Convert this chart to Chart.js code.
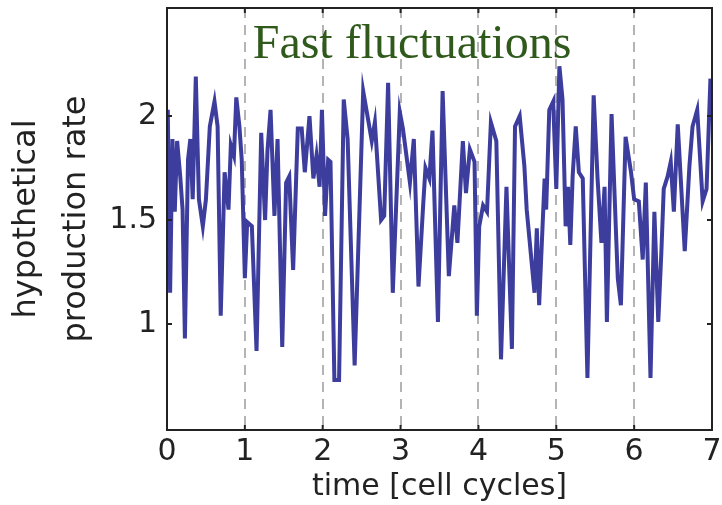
<!DOCTYPE html>
<html>
<head>
<meta charset="utf-8">
<script src="https://cdn.jsdelivr.net/npm/chart.js@4/dist/chart.umd.min.js"></script>
<style>
  html, body { margin: 0; padding: 0; background: #fff; }
  #wrap { width: 722px; height: 505px; }
</style>
</head>
<body>
<div id="wrap"><canvas id="graf"></canvas></div>
<script>
// time in cell cycles, production rate
const times = [0.01, 0.04, 0.07, 0.10, 0.13, 0.17, 0.20, 0.23, 0.27, 0.30, 0.33, 0.37, 0.41, 0.46, 0.50,
  0.55, 0.61, 0.65, 0.69, 0.74, 0.79, 0.82, 0.86, 0.89, 0.93, 0.96, 1.00, 1.03, 1.09, 1.15, 1.21, 1.26,
  1.29, 1.33, 1.38, 1.42, 1.48, 1.53, 1.57, 1.62, 1.68, 1.73, 1.77, 1.83, 1.88, 1.92, 1.96, 1.99, 2.03,
  2.07, 2.10, 2.15, 2.21, 2.27, 2.32, 2.41, 2.52, 2.58, 2.63, 2.67, 2.75, 2.79, 2.84, 2.90, 2.99, 3.03,
  3.12, 3.17, 3.23, 3.29, 3.32, 3.37, 3.41, 3.48, 3.54, 3.62, 3.69, 3.73, 3.80, 3.84, 3.89, 3.95, 3.98,
  4.01, 4.06, 4.11, 4.16, 4.23, 4.29, 4.36, 4.43, 4.47, 4.53, 4.59, 4.62, 4.68, 4.72, 4.75, 4.78, 4.85,
  4.87, 4.91, 4.96, 5.00, 5.04, 5.08, 5.12, 5.15, 5.18, 5.21, 5.25, 5.29, 5.34, 5.40, 5.48, 5.53, 5.58,
  5.62, 5.65, 5.71, 5.77, 5.79, 5.83, 5.89, 5.96, 6.00, 6.06, 6.11, 6.15, 6.21, 6.26, 6.31, 6.35, 6.38,
  6.43, 6.47, 6.51, 6.56, 6.65, 6.71, 6.75, 6.81, 6.88, 6.93, 6.98];
const rates = [2.03, 1.15, 1.89, 1.54, 1.88, 1.71, 1.55, 0.93, 1.79, 1.89, 1.60, 2.19, 1.60, 1.47, 1.60,
  1.95, 2.07, 1.95, 1.04, 1.73, 1.55, 1.86, 1.81, 2.09, 1.95, 1.79, 1.22, 1.49, 1.47, 0.87, 1.92, 1.50,
  1.83, 2.03, 1.52, 1.89, 0.89, 1.68, 1.71, 1.26, 1.94, 1.94, 1.73, 2.00, 1.70, 1.81, 1.66, 2.03, 1.52,
  1.79, 1.78, 0.73, 0.73, 2.08, 1.89, 0.80, 2.12, 1.99, 1.88, 1.97, 1.50, 1.52, 2.16, 1.15, 2.02, 1.94,
  1.68, 1.89, 1.18, 1.57, 1.75, 1.70, 1.93, 1.01, 2.12, 1.23, 1.57, 1.39, 1.88, 1.63, 1.84, 1.78, 1.04,
  1.47, 1.57, 1.54, 1.97, 1.88, 0.83, 1.66, 0.88, 1.95, 2.00, 1.76, 1.55, 1.31, 1.15, 1.46, 1.09, 1.70,
  1.55, 2.03, 2.07, 1.65, 2.24, 2.08, 1.47, 1.66, 1.38, 1.71, 1.95, 1.73, 1.70, 0.74, 2.10, 1.70, 1.39,
  1.66, 1.01, 2.01, 1.41, 1.22, 1.09, 1.90, 1.73, 1.60, 1.59, 1.31, 1.68, 0.74, 1.54, 1.01, 1.35, 1.65,
  1.71, 1.78, 1.54, 1.96, 1.35, 1.76, 1.95, 2.03, 1.59, 1.65, 2.18];

const xTicks = [0, 1, 2, 3, 4, 5, 6, 7];
const yTicks = [1, 1.5, 2];
const titleText = 'Fast fluctuations';

const points = times.map((t, i) => ({ x: t, y: rates[i] }));

// box round the plot, inward tick marks and the title inside the plot
const boxPlugin = {
  id: 'box',
  afterDatasetsDraw(chart) {
    const { ctx, chartArea: a, scales } = chart;
    ctx.save();
    ctx.strokeStyle = '#222';
    ctx.lineWidth = 2;
    ctx.strokeRect(a.left, a.top, a.right - a.left, a.bottom - a.top);
    ctx.beginPath();
    xTicks.forEach(v => {
      const px = scales.x.getPixelForValue(v);
      ctx.moveTo(px, a.bottom); ctx.lineTo(px, a.bottom - 5);
      ctx.moveTo(px, a.top); ctx.lineTo(px, a.top + 5);
    });
    yTicks.forEach(v => {
      const py = scales.y.getPixelForValue(v);
      ctx.moveTo(a.left, py); ctx.lineTo(a.left + 5, py);
      ctx.moveTo(a.right, py); ctx.lineTo(a.right - 5, py);
    });
    ctx.stroke();
    ctx.fillStyle = '#2f5a1c';
    ctx.font = '48px "Liberation Serif", "Times New Roman", serif';
    ctx.textAlign = 'center';
    ctx.textBaseline = 'alphabetic';
    ctx.fillText(titleText, a.left + 245, a.top + 50);
    ctx.restore();
  }
};

const ctx = document.getElementById('graf').getContext('2d');

const grafico = new Chart(ctx, {
  type: 'line',
  data: {
    datasets: [{
      data: points,
      borderColor: '#3d3d9e',
      borderWidth: 4,
      pointRadius: 0,
      tension: 0,
      fill: false
    }]
  },
  options: {
    responsive: true,
    maintainAspectRatio: false,
    animation: false,
    layout: { padding: { left: 0, right: 10, top: 8, bottom: 0 } },
    plugins: {
      legend: { display: false },
      tooltip: { enabled: false }
    },
    scales: {
      x: {
        type: 'linear',
        min: 0,
        max: 7,
        afterBuildTicks: s => { s.ticks = xTicks.map(v => ({ value: v })); },
        afterFit: s => { s.height = 75; s.paddingLeft = 0; s.paddingRight = 0; },
        grid: {
          drawTicks: false,
          lineWidth: 2,
          color: c => (c.tick && c.tick.value > 0 && c.tick.value < 7) ? '#b4b4b4' : 'rgba(0,0,0,0)'
        },
        border: { display: false, dash: [10, 7] },
        ticks: {
          color: '#222',
          padding: 4,
          maxRotation: 0,
          font: { family: 'DejaVu Sans', size: 30 }
        },
        title: {
          display: true,
          text: 'time [cell cycles]',
          color: '#222',
          padding: 0,
          font: { family: 'DejaVu Sans', size: 30 }
        }
      },
      y: {
        min: 0.49,
        max: 2.52,
        afterBuildTicks: s => { s.ticks = yTicks.map(v => ({ value: v })); },
        afterFit: s => { s.width = 167; s.paddingTop = 0; s.paddingBottom = 0; },
        grid: { display: false, drawTicks: false },
        border: { display: false },
        ticks: {
          color: '#222',
          padding: 10,
          callback: v => String(v),
          font: { family: 'DejaVu Sans', size: 30 }
        },
        title: {
          display: true,
          text: ['hypothetical', 'production rate'],
          color: '#222',
          padding: { top: 2, bottom: 0 },
          font: { family: 'DejaVu Sans', size: 32, lineHeight: 1.55 }
        }
      }
    }
  },
  plugins: [boxPlugin]
});
</script>
</body>
</html>
